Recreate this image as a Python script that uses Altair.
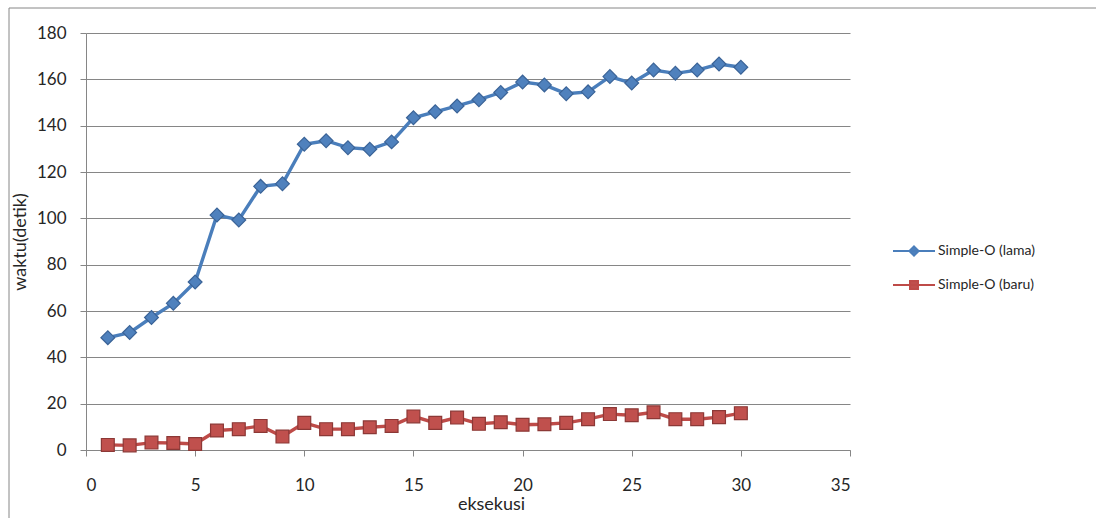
import altair as alt
import pandas as pd

# Execution index and timings (seconds) for the old and new Simple-O
runs = list(range(1, 31))
lama = [48.5, 50.7, 57.2, 63.3, 72.5, 101.4, 99.3, 113.8, 114.9, 132.0,
        133.5, 130.5, 129.8, 133.0, 143.4, 146.0, 148.5, 151.2, 154.3, 158.8,
        157.6, 153.8, 154.6, 161.2, 158.4, 164.0, 162.6, 164.0, 166.6, 165.2]
baru = [2.2, 2.0, 3.2, 3.0, 2.6, 8.4, 9.0, 10.4, 5.8, 11.7,
        9.0, 9.0, 9.8, 10.4, 14.5, 11.7, 14.0, 11.3, 12.0, 10.9,
        11.1, 11.7, 13.3, 15.5, 15.0, 16.3, 13.3, 13.3, 14.2, 15.9]
series = ["Simple-O (lama)", "Simple-O (baru)"]

x_ticks = [0, 5, 10, 15, 20, 25, 30, 35]
y_ticks = [0, 20, 40, 60, 80, 100, 120, 140, 160, 180]

line_colors = ["#4A7EBB", "#BE4B48"]
fill_colors = ["#4F81BD", "#C0504D"]
edge_colors = ["#3A6397", "#8C3836"]

df = pd.concat([
    pd.DataFrame({"eksekusi": runs, "waktu": lama, "seri": series[0]}),
    pd.DataFrame({"eksekusi": runs, "waktu": baru, "seri": series[1]}),
])

FONT = "Lato"
GRID = "#868686"
TEXT = "#262626"

x_enc = alt.X("eksekusi:Q",
              scale=alt.Scale(domain=[0, 35], nice=False, zero=False),
              axis=alt.Axis(values=x_ticks, title="eksekusi", grid=False,
                            domainColor=GRID, tickColor=GRID, tickSize=6,
                            labelFont=FONT, labelFontSize=17, labelColor=TEXT,
                            labelPadding=21,
                            titleFont=FONT, titleFontSize=18, titleFontWeight="normal",
                            titleColor=TEXT, titleX=405, titleY=54,
                            titleBaseline="middle"))
y_enc = alt.Y("waktu:Q",
              scale=alt.Scale(domain=[0, 180], nice=False),
              axis=alt.Axis(values=y_ticks, title="waktu(detik)", grid=True,
                            gridColor=GRID, gridWidth=1,
                            domainColor=GRID, tickColor=GRID, tickSize=6,
                            labelFont=FONT, labelFontSize=17, labelColor=TEXT,
                            labelPadding=14,
                            titleFont=FONT, titleFontSize=18, titleFontWeight="normal",
                            titleColor=TEXT, titleX=-66, titleBaseline="middle"))

color_line = alt.Color("seri:N", scale=alt.Scale(domain=series, range=line_colors), legend=None)

lines = alt.Chart(df).mark_line(strokeWidth=3.4).encode(
    x=x_enc, y=y_enc, color=color_line, detail="seri:N")

points = alt.Chart(df).mark_point(filled=True, opacity=1, strokeWidth=1.2).encode(
    x="eksekusi:Q", y="waktu:Q",
    fill=alt.Fill("seri:N", scale=alt.Scale(domain=series, range=fill_colors), legend=None),
    stroke=alt.Stroke("seri:N", scale=alt.Scale(domain=series, range=edge_colors), legend=None),
    shape=alt.Shape("seri:N", scale=alt.Scale(domain=series, range=["diamond", "square"]), legend=None),
    size=alt.Size("seri:N", scale=alt.Scale(domain=series, range=[190, 165]), legend=None),
)

# Legend symbols: a short line segment with the series marker on it
legend_paths = [
    "M-1,0L1,0M0,-0.22L0.22,0L0,0.22L-0.22,0Z",
    "M-1,0L1,0M-0.19,-0.19L0.19,-0.19L0.19,0.19L-0.19,0.19Z",
]
legend_layer = alt.Chart(df).transform_filter("false").mark_point(
    filled=True, opacity=1, strokeWidth=2).encode(
    x="eksekusi:Q", y="waktu:Q",
    color=alt.Color("seri:N", scale=alt.Scale(domain=series, range=fill_colors),
                    legend=alt.Legend(title=None, orient="none", legendX=806, legendY=196,
                                      symbolSize=1764, symbolStrokeWidth=2,
                                      labelFont=FONT, labelFontSize=14, labelColor=TEXT,
                                      labelOffset=2, rowPadding=3, symbolOpacity=1)),
    stroke=alt.Stroke("seri:N", scale=alt.Scale(domain=series, range=line_colors)),
    shape=alt.Shape("seri:N", scale=alt.Scale(domain=series, range=legend_paths)),
)

frame = alt.Chart(alt.Data(values=[{}])).mark_rect(
    fill=None, stroke=GRID, strokeWidth=1, clip=False).encode(
    x=alt.value(-77), x2=alt.value(1100), y=alt.value(-25), y2=alt.value(500))

chart = alt.layer(frame, lines, points, legend_layer).resolve_scale(
    color="independent", fill="independent", stroke="independent",
    shape="independent", size="independent"
).properties(
    width=764, height=417,
    autosize=alt.AutoSizeParams(type="none"),
    padding={"left": 86, "top": 33, "right": 246, "bottom": 68},
    background="white",
).configure_view(stroke=None)

chart.save("out.html", embed_options={"renderer": "svg", "actions": False})
